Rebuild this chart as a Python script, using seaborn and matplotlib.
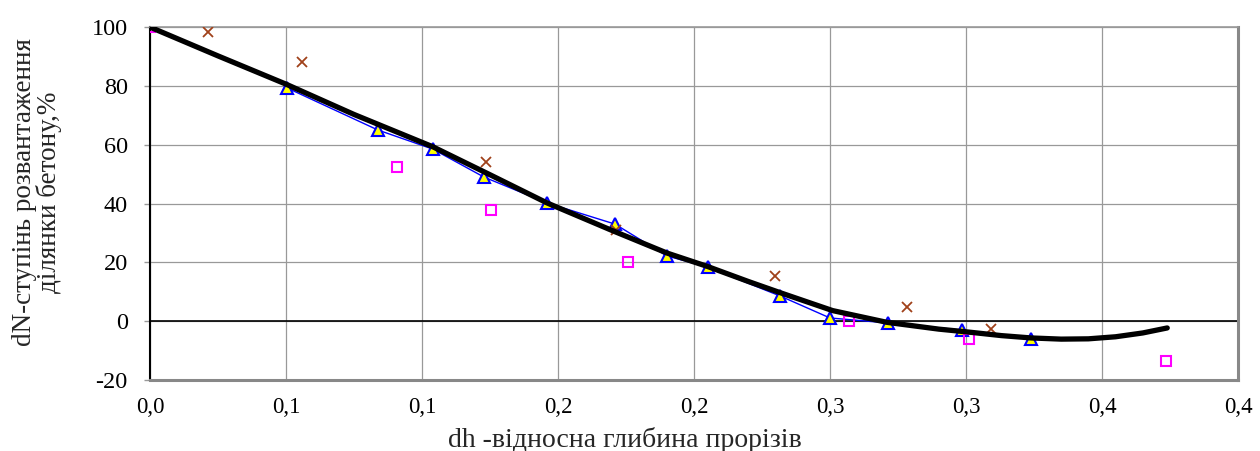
# ==========================================
# dN vs dh chart (Excel-style scatter with trend)
# ==========================================

import numpy as np
import pandas as pd
import matplotlib
matplotlib.use("Agg")
import matplotlib.pyplot as plt
import seaborn as sns

# ==========================================
# DATA
# ==========================================

tri_x = [0.0504, 0.0838, 0.104, 0.1228, 0.146, 0.171, 0.190, 0.205,
         0.2316, 0.250, 0.2713, 0.2985, 0.3239]
tri_y = [79.3, 65.0, 58.5, 49.0, 40.2, 33.0, 22.2, 18.4,
         8.6, 1.1, -0.6, -3.0, -6.2]

cross_x = [0.0, 0.0213, 0.0559, 0.1235, 0.1713, 0.2298, 0.2783, 0.3092]
cross_y = [100.0, 98.3, 88.1, 54.1, 31.0, 15.4, 4.8, -2.65]

sq_x = [0.0, 0.0908, 0.1254, 0.1757, 0.257, 0.3011, 0.3735]
sq_y = [100.0, 52.4, 37.8, 20.1, 0.1, -6.0, -13.5]

trend_x = [0.0, 0.025, 0.05, 0.075, 0.104, 0.125, 0.146, 0.17, 0.19, 0.205,
           0.22, 0.232, 0.251, 0.271, 0.29, 0.302, 0.313, 0.324, 0.335,
           0.345, 0.355, 0.365, 0.374]
trend_y = [100.0, 90.2, 80.6, 70.3, 59.3, 49.8, 40.2, 30.8, 23.2, 18.6,
           13.5, 9.6, 3.6, -0.4, -2.7, -3.8, -4.9, -5.7, -6.1,
           -6.0, -5.3, -4.0, -2.3]

x_ticks = [0.0, 0.05, 0.1, 0.15, 0.2, 0.25, 0.3, 0.35, 0.4]
x_tick_labels = ["0,0", "0,1", "0,1", "0,2", "0,2", "0,3", "0,3", "0,4", "0,4"]
y_ticks = [-20, 0, 20, 40, 60, 80, 100]

# ==========================================
# SETTINGS
# ==========================================

sns.set_theme(style="white")
plt.rcParams["font.family"] = ["Liberation Serif", "DejaVu Serif"]
plt.rcParams["axes.unicode_minus"] = False

fig = plt.figure(figsize=(12.6, 4.51), dpi=100)
ax = fig.add_axes([0.119, 0.1574, 0.8635, 0.7826])

# ==========================================
# SERIES
# ==========================================

sns.lineplot(
    x=tri_x, y=tri_y, ax=ax,
    sort=False, estimator=None,
    color="#0000FF", lw=1.0,
    marker="^", markersize=8,
    markerfacecolor="#FFFF00", markeredgecolor="#0000FF",
    markeredgewidth=1.5, zorder=3
)

sns.lineplot(
    x=cross_x, y=cross_y, ax=ax,
    sort=False, estimator=None,
    linestyle="none",
    marker="x", markersize=7,
    markeredgecolor="#A0411A", markeredgewidth=1.3, zorder=4
)

sns.lineplot(
    x=sq_x, y=sq_y, ax=ax,
    sort=False, estimator=None,
    linestyle="none",
    marker="s", markersize=7.5,
    markerfacecolor="none", markeredgecolor="#FF00FF",
    markeredgewidth=1.5, zorder=4
)

sns.lineplot(
    x=trend_x, y=trend_y, ax=ax,
    sort=False, estimator=None,
    color="black", lw=3.8, zorder=5,
    solid_capstyle="round", solid_joinstyle="round"
)

# ==========================================
# AXES
# ==========================================

ax.set_xlim(0, 0.4)
ax.set_ylim(-20, 100)

ax.set_xticks(x_ticks)
ax.set_xticklabels(x_tick_labels)
ax.set_yticks(y_ticks)

ax.grid(True, color="#999999", lw=0.9)
ax.set_axisbelow(True)

ax.axhline(0, color="black", lw=1.2, zorder=2)

ax.spines["top"].set_color("#999999")
ax.spines["top"].set_linewidth(1.2)
for side in ["right", "bottom"]:
    ax.spines[side].set_color("#888888")
    ax.spines[side].set_linewidth(2.2)
ax.spines["left"].set_color("black")
ax.spines["left"].set_linewidth(1.5)

ax.tick_params(axis="y", which="both", left=True, length=4, width=1,
               color="#999999", pad=12, labelsize=17.5, labelcolor="black")
ax.tick_params(axis="x", which="both", bottom=False, length=0,
               pad=12, labelsize=16.5, labelcolor="black")

ax.set_xlabel("dh -відносна глибина прорізів", fontsize=20, va="top")
ax.xaxis.set_label_coords(0.4366, -0.132)

ax.set_ylabel("dN-ступінь розвантаження\nділянки бетону,%", fontsize=19.5,
              linespacing=0.95)
ax.yaxis.set_label_coords(-0.081, 0.533)

fig.savefig("out.png", dpi=100)
